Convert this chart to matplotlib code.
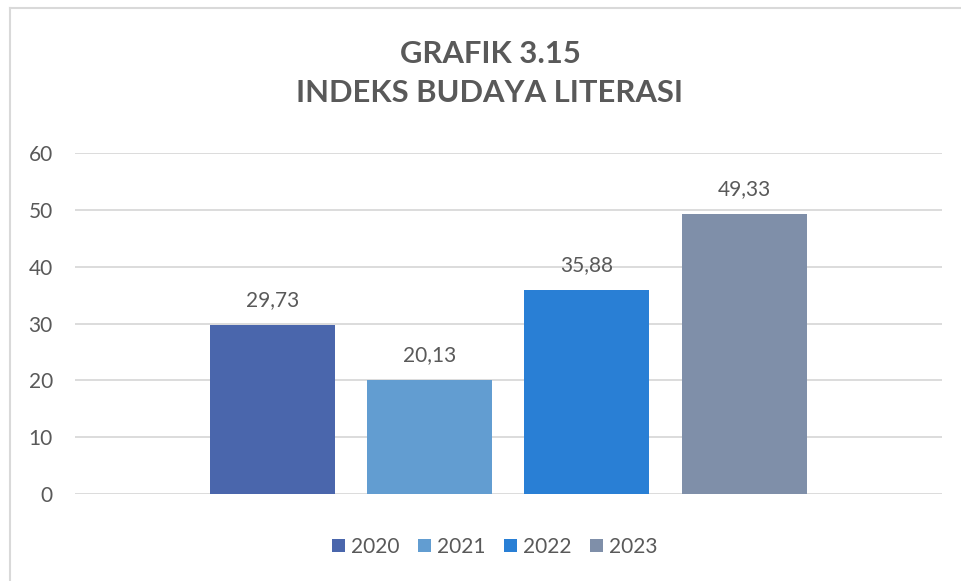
import numpy as np
import matplotlib
matplotlib.use('Agg')
import matplotlib.pyplot as plt
from matplotlib.lines import Line2D

plt.rcParams['font.family'] = ['Lato', 'DejaVu Sans']

# data
years = ['2020', '2021', '2022', '2023']
values = [29.73, 20.13, 35.88, 49.33]
value_labels = ['29,73', '20,13', '35,88', '49,33']
colors = ['#4A66AC', '#629DD1', '#297FD5', '#7F8FA9']
yticks = [0, 10, 20, 30, 40, 50, 60]

text_color = '#595959'

fig = plt.figure(figsize=(9.62, 5.81), dpi=100)
ax = fig.add_axes([75/962, 87/581, 867/962, 341/581])

x = np.arange(len(years))
for i in range(len(years)):
    ax.bar(x[i], values[i], width=0.795, color=colors[i], label=years[i], zorder=3)
    ax.text(x[i], values[i] + 2.6, value_labels[i], ha='center', va='bottom',
            fontsize=15, color=text_color)

ax.set_ylim(0, 60)
ax.set_xlim(-1.256, 4.259)
ax.set_yticks(yticks)
ax.set_yticklabels([str(t) for t in yticks], fontsize=15, color=text_color)
ax.set_xticks([])
ax.yaxis.grid(True, color='#D9D9D9', linewidth=1.3, zorder=0)
ax.tick_params(axis='y', length=0, pad=16)
for s in ax.spines.values():
    s.set_visible(False)

fig.text(490/962, 1 - 54/581, 'GRAFIK 3.15', ha='center', va='center',
         fontsize=22.3, fontweight='bold', color=text_color)
fig.text(490/962, 1 - 93/581, 'INDEKS BUDAYA LITERASI', ha='center', va='center',
         fontsize=22.3, fontweight='bold', color=text_color)

fig.legend(loc='center', bbox_to_anchor=(495/962, 1 - 547/581), ncol=4, frameon=False,
           fontsize=15, labelcolor=text_color, handlelength=0.6, handleheight=0.6,
           handletextpad=0.3, columnspacing=0.9)

# outer frame (top and left visible)
fig.add_artist(Line2D([10/962, 1], [1 - 8/581, 1 - 8/581], color='#D9D9D9', linewidth=1.5))
fig.add_artist(Line2D([10/962, 10/962], [0, 1 - 8/581], color='#D9D9D9', linewidth=1.5))

fig.savefig('out.png', dpi=100, facecolor='white')
